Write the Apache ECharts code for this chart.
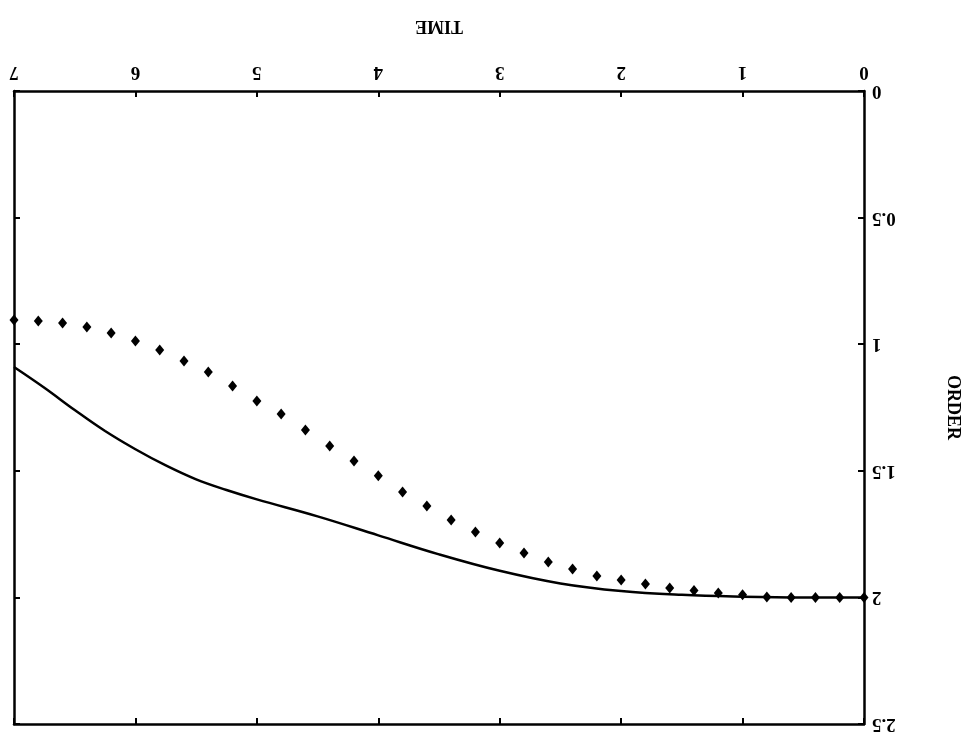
<!DOCTYPE html>
<html>
<head>
<meta charset="utf-8">
<script src="https://cdn.jsdelivr.net/npm/echarts@6/dist/echarts.min.js"></script>
<style>
html,body{margin:0;padding:0;background:#fff;}
#chart{width:971px;height:742px;}
</style>
</head>
<body>
<div id="chart"></div>
<script>
// Solid curve: [TIME, ORDER]
var lineTime  = [0, 0.5, 1.0, 1.5, 2.0, 2.5, 3.0, 3.5, 4.0, 4.5, 5.0, 5.25, 5.5, 5.75, 6.0, 6.25, 6.5, 6.75, 7.0];
var lineOrder = [2.0, 2.0, 1.997, 1.99, 1.975, 1.945, 1.895, 1.83, 1.755, 1.68, 1.613, 1.576, 1.534, 1.479, 1.415, 1.343, 1.26, 1.172, 1.09];

// Diamond markers: [TIME, ORDER]
var dotTime  = [0, 0.2, 0.4, 0.6, 0.8, 1.0, 1.2, 1.4, 1.6, 1.8, 2.0, 2.2, 2.4, 2.6, 2.8, 3.0, 3.2, 3.4,
                3.6, 3.8, 4.0, 4.2, 4.4, 4.6, 4.8, 5.0, 5.2, 5.4, 5.6, 5.8, 6.0, 6.2, 6.4, 6.6, 6.8, 7.0];
var dotOrder = [2.0, 2.0, 2.0, 2.0, 1.998, 1.99, 1.983, 1.973, 1.963, 1.947, 1.931, 1.915, 1.888, 1.86, 1.825, 1.785, 1.742, 1.694,
                1.639, 1.584, 1.52, 1.461, 1.402, 1.339, 1.276, 1.224, 1.165, 1.11, 1.066, 1.023, 0.987, 0.956, 0.932, 0.916, 0.908, 0.904];

var xTicks = {min: 0, max: 7, interval: 1};
var yTicks = {min: 0, max: 2.5, interval: 0.5};

var FONT = 'Liberation Serif';

function zip(a, b) { return a.map(function (v, i) { return [v, b[i]]; }); }

var axisLine = {show: true, onZero: false, lineStyle: {color: '#000', width: 2.5}};
var tickIn = {show: true, inside: true, length: 6, lineStyle: {color: '#000', width: 2}};

var chart = echarts.init(document.getElementById('chart'));
chart.setOption({
  backgroundColor: '#fff',
  animation: false,
  grid: {left: 14, right: 107, top: 91, bottom: 18, containLabel: false},
  xAxis: [{
    type: 'value', position: 'top', inverse: true,
    min: xTicks.min, max: xTicks.max, interval: xTicks.interval,
    name: 'TIME', nameLocation: 'middle', nameGap: 56, nameRotate: 180,
    nameTextStyle: {fontFamily: FONT, fontWeight: 'bold', fontSize: 18, color: '#000'},
    axisLine: axisLine, axisTick: tickIn, splitLine: {show: false},
    axisLabel: {rotate: 180, margin: 10, fontFamily: FONT, fontWeight: 'bold', fontSize: 19, color: '#000'}
  }, {
    type: 'value', position: 'bottom', inverse: true,
    min: xTicks.min, max: xTicks.max, interval: xTicks.interval,
    axisLine: axisLine, axisTick: tickIn, splitLine: {show: false},
    axisLabel: {show: false}
  }],
  yAxis: [{
    type: 'value', position: 'right', inverse: true,
    min: yTicks.min, max: yTicks.max, interval: yTicks.interval,
    name: 'ORDER', nameLocation: 'middle', nameGap: 80, nameRotate: -90,
    nameTextStyle: {fontFamily: FONT, fontWeight: 'bold', fontSize: 18, color: '#000'},
    axisLine: axisLine, axisTick: tickIn, splitLine: {show: false},
    axisLabel: {rotate: 180, margin: 8, fontFamily: FONT, fontWeight: 'bold', fontSize: 19, color: '#000'}
  }, {
    type: 'value', position: 'left', inverse: true,
    min: yTicks.min, max: yTicks.max, interval: yTicks.interval,
    axisLine: axisLine, axisTick: tickIn, splitLine: {show: false},
    axisLabel: {show: false}
  }],
  series: [{
    type: 'line', xAxisIndex: 0, yAxisIndex: 0,
    data: zip(lineTime, lineOrder),
    smooth: 0.4, showSymbol: false,
    lineStyle: {color: '#000', width: 2.5}
  }, {
    type: 'scatter', xAxisIndex: 0, yAxisIndex: 0,
    data: zip(dotTime, dotOrder),
    symbol: 'diamond', symbolSize: [9, 11],
    itemStyle: {color: '#000', opacity: 1}
  }]
});
</script>
</body>
</html>
